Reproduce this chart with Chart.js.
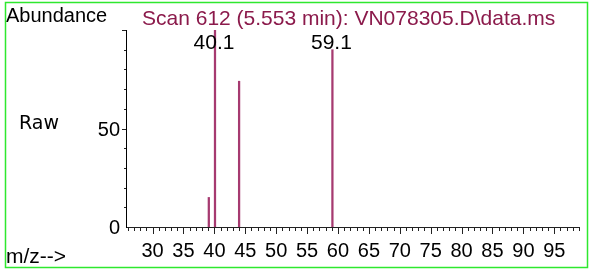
<!DOCTYPE html>
<html><head><meta charset="utf-8">
<script src="https://cdn.jsdelivr.net/npm/chart.js@4/dist/chart.umd.min.js"></script>
<style>html,body{margin:0;padding:0;background:#fff;}#wrap{width:590px;height:270px;position:relative}</style>
</head><body><div id="wrap"><canvas id="c" width="590" height="270"></canvas></div>
<script>
const mzValues = [39.1, 40.1, 44.0, 59.1];
const abundances = [15, 100, 74, 90];
const peakLabels = ['', '40.1', '', '59.1'];
const xTickLabels = [30, 35, 40, 45, 50, 55, 60, 65, 70, 75, 80, 85, 90, 95];
const yTickLabels = [0, 50];
const titleText = 'Scan 612 (5.553 min): VN078305.D\\data.ms';
const yAxisTitle = 'Abundance';
const sideLabel = 'Raw';
const xAxisTitle = 'm/z-->';

const SANS = '"Liberation Sans", Arial, sans-serif';

const decor = {
  id: 'decor',
  afterDatasetsDraw(chart) {
    const ctx = chart.ctx;
    const xs = chart.scales.x, ys = chart.scales.y;
    const area = chart.chartArea;
    ctx.save();
    ctx.strokeStyle = '#222';
    ctx.lineWidth = 1;
    ctx.beginPath();
    for (let v = Math.ceil(xs.min); v <= Math.floor(xs.max); v++) {
      const px = Math.round(xs.getPixelForValue(v)) + 0.5;
      const len = (v % 5 === 0) ? 7 : 4;
      ctx.moveTo(px, area.bottom);
      ctx.lineTo(px, area.bottom + len);
    }
    for (let v = 10; v <= 100; v += 10) {
      const py = Math.round(ys.getPixelForValue(v)) + 0.5;
      const len = (v % 50 === 0) ? 4 : 2;
      ctx.moveTo(area.left, py);
      ctx.lineTo(area.left - len, py);
    }
    ctx.stroke();

    // tick labels (positions from the library's scales)
    ctx.fillStyle = '#000';
    ctx.font = '20px ' + SANS;
    ctx.textBaseline = 'alphabetic';
    ctx.textAlign = 'center';
    xTickLabels.forEach(v => {
      ctx.fillText(String(v), xs.getPixelForValue(v), 257);
    });
    ctx.textAlign = 'right';
    yTickLabels.forEach(v => {
      const py = ys.getPixelForValue(v);
      ctx.fillText(String(v), 120, Math.min(py + 7, 237));
    });

    ctx.font = '21px ' + SANS;
    ctx.textAlign = 'center';
    peakLabels.forEach((lab, i) => {
      if (!lab) return;
      const px = xs.getPixelForValue(mzValues[i]);
      const py = ys.getPixelForValue(abundances[i]);
      const base = Math.max(py - 1, 49);
      ctx.fillText(lab, px - 1, base);
    });

    ctx.textAlign = 'left';
    ctx.fillStyle = '#000';
    ctx.font = '20px ' + SANS;
    ctx.fillText(yAxisTitle, 6, 22);
    ctx.fillStyle = '#8B1A4B';
    ctx.font = '21px ' + SANS;
    ctx.fillText(titleText, 142, 25);
    ctx.fillStyle = '#000';
    ctx.font = '19px "DejaVu Sans", sans-serif';
    ctx.fillText(sideLabel, 19, 129);
    ctx.font = '21px ' + SANS;
    ctx.fillText(xAxisTitle, 6, 263);

    ctx.strokeStyle = '#2ee82e';
    ctx.lineWidth = 1.5;
    ctx.strokeRect(5.5, 2.5, 582, 265);
    ctx.restore();
  }
};

new Chart(document.getElementById('c'), {
  type: 'bar',
  data: {
    datasets: [{
      data: mzValues.map((x, i) => ({ x: x, y: abundances[i] })),
      backgroundColor: '#A63A70',
      borderWidth: 0,
      barThickness: 1.6,
      grouped: false
    }]
  },
  options: {
    responsive: false,
    devicePixelRatio: 1,
    animation: false,
    layout: { padding: { top: 30, right: 11, left: 0, bottom: 0 } },
    plugins: { legend: { display: false }, tooltip: { enabled: false }, title: { display: false } },
    scales: {
      x: {
        type: 'linear',
        min: 25.7,
        max: 99,
        offset: false,
        grid: { display: false, drawTicks: false, offset: false },
        border: { display: true, color: '#222', width: 1 },
        ticks: { display: false, stepSize: 5 },
        afterFit: s => { s.height = 43; }
      },
      y: {
        type: 'linear',
        min: 0,
        max: 100,
        grid: { display: false, drawTicks: false },
        border: { display: true, color: '#000', width: 1 },
        ticks: { display: false, stepSize: 50 },
        afterFit: s => { s.width = 126; }
      }
    }
  },
  plugins: [decor]
});
</script>
</body></html>
